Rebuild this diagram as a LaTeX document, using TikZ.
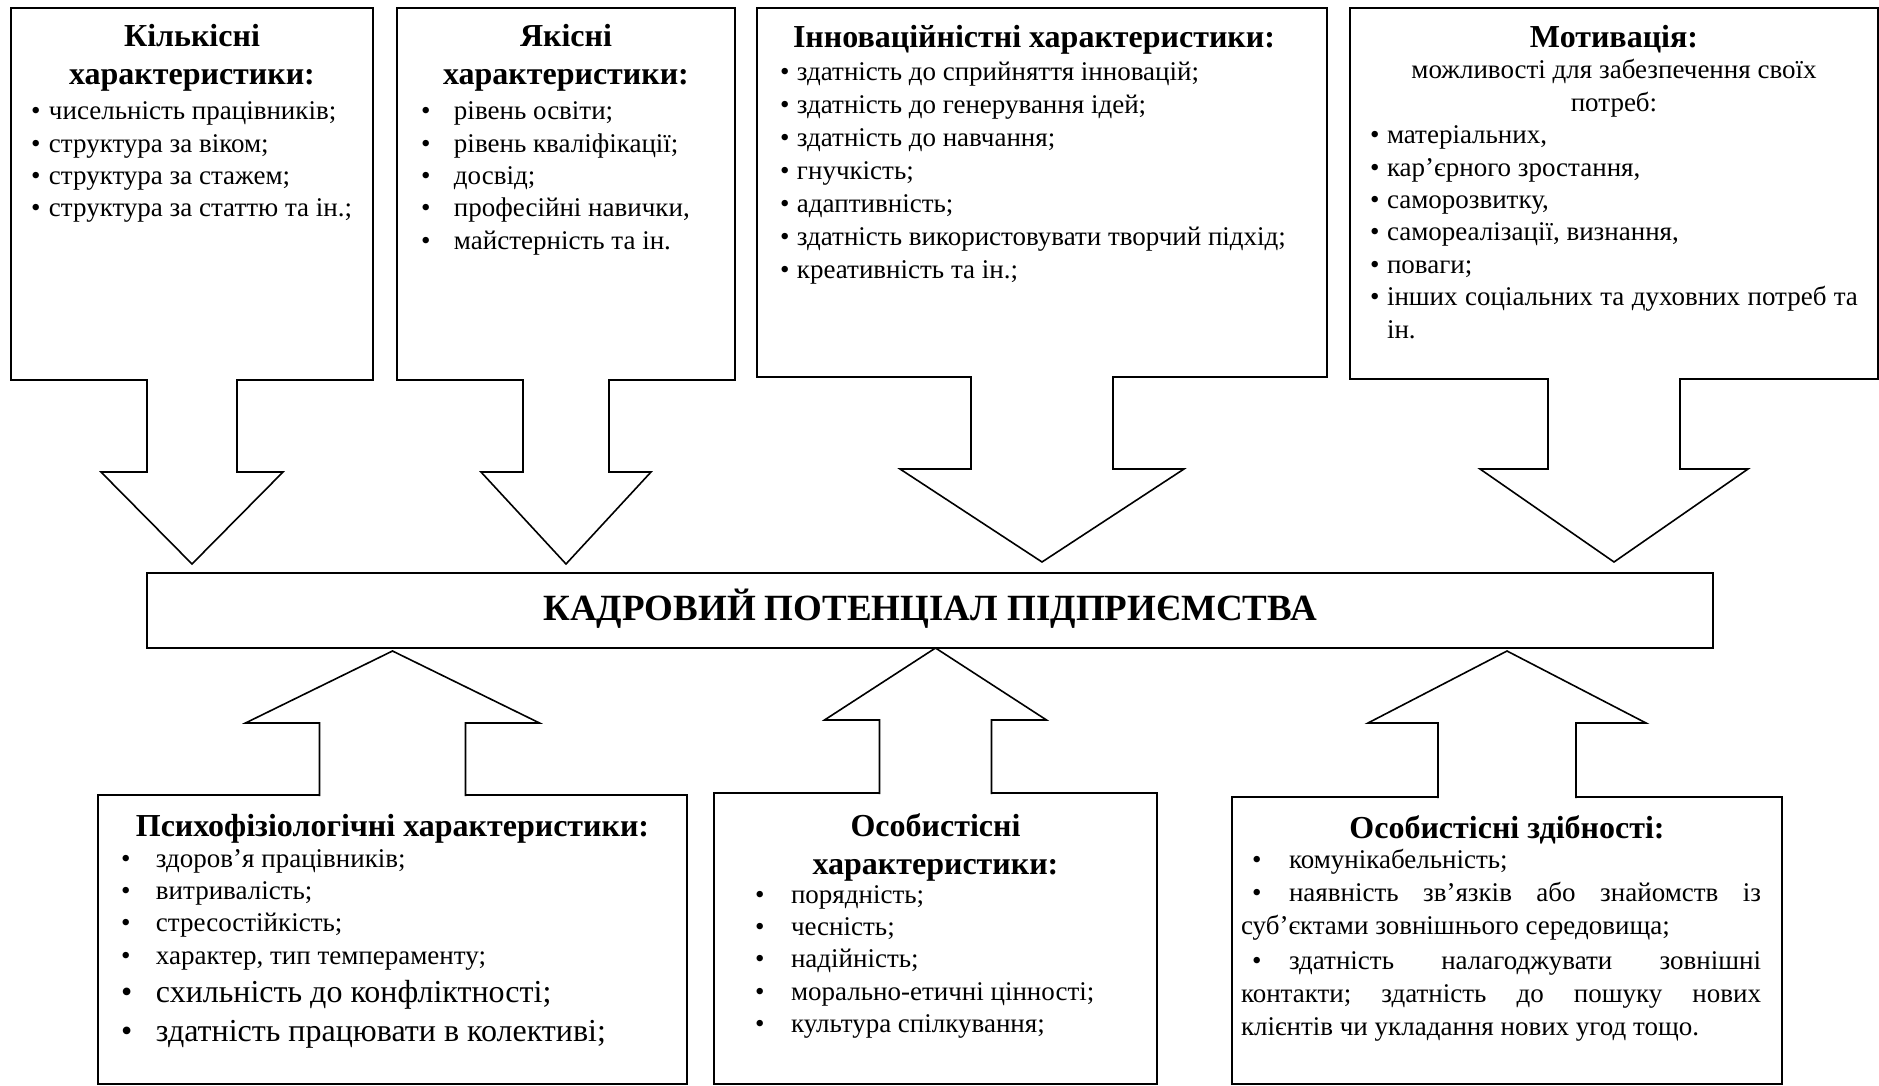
\documentclass[tikz,border=0pt]{standalone}
\usepackage{fontspec}
\setmainfont{Liberation Serif}
\usetikzlibrary{calc}
\frenchspacing

\newcommand{\itemfont}{\fontsize{27}{32.4}\selectfont}
\newcommand{\headfont}{\fontsize{32}{38}\selectfont\bfseries}
\newcommand{\bigfont}{\fontsize{32}{38.6}\selectfont}
% justified paragraph settings
\newcommand{\justpar}{\leftskip=0pt\relax\rightskip=0pt\relax\spaceskip=0pt\relax\xspaceskip=0pt\relax
  \parfillskip=0pt plus 1fil\relax\hyphenpenalty=10000\relax}
% bullet item, #1 = distance from bullet to text
\newcommand{\bul}[2]{\par\justpar\hangindent=#1pt\hangafter=1\noindent\makebox[#1pt][l]{\textbullet}#2\par}
% bullet item without hanging indent, #1 = bullet indent, #2 = distance from bullet to text
\newcommand{\bulflat}[3]{\par\justpar\rightskip=12pt\relax
  \noindent\hspace*{#1pt}\makebox[#2pt][l]{\textbullet}#3\par}

% block arrows: from, to, shaft half, head half, head length, gap
\newcommand{\blockdown}[6]{%
  \coordinate (tip) at ($(#2.north -| #1.south)+(0,-#6)$);
  \fill[white] ($(#1.south)+(-#3,-2)$) -- ($(tip)+(-#3,-#5)$) -- ($(tip)+(-#4,-#5)$) -- (tip)
    -- ($(tip)+(#4,-#5)$) -- ($(tip)+(#3,-#5)$) -- ($(#1.south)+(#3,-2)$) -- cycle;
  \draw[arrowline] ($(#1.south)+(-#3,-1)$) -- ($(tip)+(-#3,-#5)$) -- ($(tip)+(-#4,-#5)$) -- (tip)
    -- ($(tip)+(#4,-#5)$) -- ($(tip)+(#3,-#5)$) -- ($(#1.south)+(#3,-1)$);
}
\newcommand{\blockup}[6]{%
  \coordinate (tip) at ($(#2.south -| #1.north)+(0,#6)$);
  \fill[white] ($(#1.north)+(-#3,2)$) -- ($(tip)+(-#3,#5)$) -- ($(tip)+(-#4,#5)$) -- (tip)
    -- ($(tip)+(#4,#5)$) -- ($(tip)+(#3,#5)$) -- ($(#1.north)+(#3,2)$) -- cycle;
  \draw[arrowline] ($(#1.north)+(-#3,1)$) -- ($(tip)+(-#3,#5)$) -- ($(tip)+(-#4,#5)$) -- (tip)
    -- ($(tip)+(#4,#5)$) -- ($(tip)+(#3,#5)$) -- ($(#1.north)+(#3,1)$);
}

\tikzset{
  panel/.style={draw, line width=2pt, rectangle, anchor=north west, inner ysep=0pt,
    outer sep=0pt, align=justify, font=\itemfont},
  mainbox/.style={draw, line width=2pt, rectangle, anchor=north west, inner sep=0pt,
    outer sep=0pt, font=\fontsize{37}{42}\selectfont\bfseries, minimum width=1566pt,
    text height=47pt, text depth=28pt},
  arrowline/.style={line width=1.6pt, line join=miter}
}

\begin{document}
\begin{tikzpicture}[x=1pt, y=-1pt]
  \useasboundingbox (0,0) rectangle (1879,1086);

  % top row
  \node[panel, text width=322pt, inner xsep=20pt, text height=39pt, text depth=333pt] (kilk) at (11,8) {%
    {\centering\headfont Кількісні\\ характеристики:\par}
    \vspace{2.4pt}
    \bul{18}{чисельність працівників;}
    \bul{18}{структура за віком;}
    \bul{18}{структура за стажем;}
    \bul{18}{\mbox{структура за статтю та ін.;}}};
  \node[panel, text width=290pt, inner xsep=24pt, text height=39pt, text depth=333pt] (yakis) at (397,8) {%
    {\centering\headfont Якісні\\ характеристики:\par}
    \vspace{2.4pt}
    \bul{33}{рівень освіти;}
    \bul{33}{рівень кваліфікації;}
    \bul{33}{досвід;}
    \bul{33}{професійні навички,}
    \bul{33}{майстерність та ін.}};
  \node[panel, text width=524pt, inner xsep=23pt, text height=40pt, text depth=329pt] (innov) at (757,8) {%
    \fontsize{27}{33}\selectfont
    {\centering\headfont Інноваційністні характеристики:\hspace*{16pt}\par}
    \vspace{-0.6pt}
    \bul{17}{здатність до сприйняття інновацій;}
    \bul{17}{здатність до генерування ідей;}
    \bul{17}{здатність до навчання;}
    \bul{17}{гнучкість;}
    \bul{17}{адаптивність;}
    \bul{17}{здатність використовувати творчий підхід;}
    \bul{17}{креативність та ін.;}};
  \node[panel, text width=488pt, inner xsep=20pt, text height=40pt, text depth=331pt] (motiv) at (1350,8) {%
    {\centering\headfont Мотивація:\par}
    \vspace{-1.4pt}
    {\centering можливості для забезпечення своїх\\ потреб:\par}
    \bul{17}{матеріальних,}
    \bul{17}{кар’єрного зростання,}
    \bul{17}{саморозвитку,}
    \bul{17}{самореалізації, визнання,}
    \bul{17}{поваги;}
    \bul{17}{інших соціальних та духовних потреб та\linebreak ін.}};

  % centre
  \node[mainbox] (kp) at (147,573) {КАДРОВИЙ ПОТЕНЦІАЛ ПІДПРИЄМСТВА};

  % bottom row
  \node[panel, text width=543pt, inner xsep=23pt, text height=41pt, text depth=248pt] (psych) at (98,795) {%
    {\centering\headfont Психофізіологічні характеристики:\par}
    \vspace{-1.4pt}
    \bul{35}{здоров’я працівників;}
    \bul{35}{витривалість;}
    \bul{35}{стресостійкість;}
    \bul{35}{характер, тип темпераменту;}
    {\bigfont
    \bul{35}{схильність до конфліктності;}
    \bul{35}{здатність працювати в колективі;}}};
  \node[panel, text width=361pt, inner xsep=41pt, text height=43pt, text depth=248pt] (osobch) at (714,793) {%
    {\centering\headfont Особистісні\\ характеристики:\par}
    \vspace{-3.4pt}
    \bul{36}{порядність;}
    \bul{36}{чесність;}
    \bul{36}{надійність;}
    \bul{36}{морально-етичні цінності;}
    \bul{36}{культура спілкування;}};
  \node[panel, text width=532pt, inner xsep=9pt, text height=41pt, text depth=246pt] (osobzd) at (1232,797) {%
    \fontsize{27}{33}\selectfont
    {\centering\headfont Особистісні здібності:\par}
    \vspace{-3pt}
    \bulflat{11}{37}{комунікабельність;}
    \bulflat{11}{37}{наявність зв’язків або знайомств із\linebreak суб’єктами зовнішнього середовища;}
    \vspace{2.5pt}
    \bulflat{11}{37}{здатність налагоджувати зовнішні\linebreak контакти; здатність до пошуку нових\linebreak клієнтів чи укладання нових угод тощо.}};

  % arrows into the centre box
  \blockdown{kilk}{kp}{45}{91}{92}{9}
  \blockdown{yakis}{kp}{43}{85}{92}{9}
  \blockdown{innov}{kp}{71}{142}{93}{11}
  \blockdown{motiv}{kp}{66}{134}{93}{11}
  \blockup{psych}{kp}{73}{147}{72}{3}
  \blockup{osobch}{kp}{56}{111}{72}{0}
  \blockup{osobzd}{kp}{69}{139}{72}{3}
\end{tikzpicture}
\end{document}
